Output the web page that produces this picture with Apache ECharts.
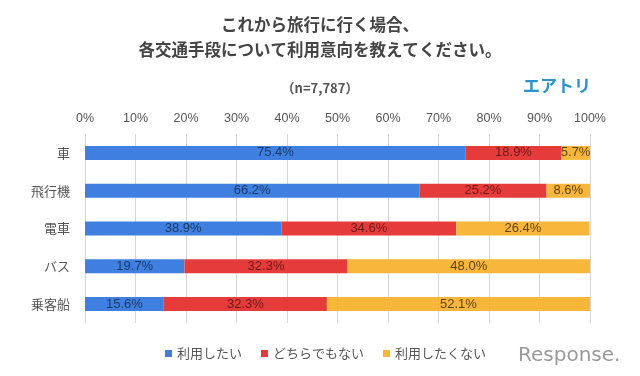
<!DOCTYPE html>
<html><head><meta charset="utf-8">
<script src="https://cdn.jsdelivr.net/npm/echarts@6/dist/echarts.min.js"></script>
<style>html,body{margin:0;padding:0;background:#fff}#c{width:640px;height:376px}</style>
</head><body><div id="c"></div>
<script>
const categories = ['車','飛行機','電車','バス','乗客船'];
const seriesNames = ['利用したい','どちらでもない','利用したくない'];
const want = [75.4, 66.2, 38.9, 19.7, 15.6];
const neutral = [18.9, 25.2, 34.6, 32.3, 32.3];
const notWant = [5.7, 8.6, 26.4, 48.0, 52.1];
const tickValues = [0,10,20,30,40,50,60,70,80,90,100];

const colors = ['#3e7fdf', '#e53b3b', '#f8b73b'];
const labelColors = ['#1d3a66', '#6e1a1a', '#5e4212'];
const font = '"Noto Sans CJK JP", sans-serif';
const latin = '"Liberation Sans", Arial, sans-serif';
const chart = echarts.init(document.getElementById('c'));
const data = [want, neutral, notWant];
chart.setOption({
  animation: false,
  textStyle: {fontFamily: font},
  title: [
    {text: 'これから旅行に行く場合、', left: 'center', top: 11,
     textStyle: {fontSize: 16.5, fontWeight: 'bold', color: '#444', fontFamily: font}},
    {text: '各交通手段について利用意向を教えてください。', left: 'center', top: 36,
     textStyle: {fontSize: 16.5, fontWeight: 'bold', color: '#444', fontFamily: font}},
    {text: '（n=7,787）', left: 'center', top: 77,
     textStyle: {fontSize: 13, fontWeight: 'bold', color: '#555', fontFamily: font}},
    {text: 'エアトリ', left: 518, top: 72,
     textStyle: {fontSize: 17, fontWeight: 'bold', color: '#2b92cc', fontFamily: font}},
    {text: 'Response.', left: 513, top: 341,
     textStyle: {fontSize: 20, fontWeight: 'normal', color: '#9a9a9a', fontFamily: '"DejaVu Sans", sans-serif'}}
  ],
  legend: {
    top: 342, left: 160, itemWidth: 7, itemHeight: 7, itemGap: 19,
    icon: 'rect',
    textStyle: {fontSize: 13, color: '#555', fontFamily: font},
    data: seriesNames
  },
  grid: {left: 85, right: 50, top: 134, bottom: 53},
  xAxis: {
    type: 'value', position: 'top', min: 0, max: 100, interval: 10,
    axisLabel: {formatter: v => tickValues.includes(v) ? v + '%' : '', fontSize: 12.5, color: '#555', margin: 9, fontFamily: latin},
    axisLine: {show: false}, axisTick: {show: false},
    splitLine: {lineStyle: {color: '#d6d6d6'}}
  },
  yAxis: {
    type: 'category', inverse: true, data: categories,
    axisLabel: {fontSize: 13, color: '#555', margin: 15},
    axisLine: {show: false}, axisTick: {show: false}
  },
  series: seriesNames.map((n, i) => ({
    name: n, type: 'bar', stack: 'all', barWidth: 14,
    itemStyle: {color: colors[i]},
    label: {show: true, position: 'inside', formatter: p => p.value.toFixed(1) + '%',
            color: labelColors[i], fontSize: 13, fontFamily: latin},
    data: data[i]
  }))
});
</script></body></html>
